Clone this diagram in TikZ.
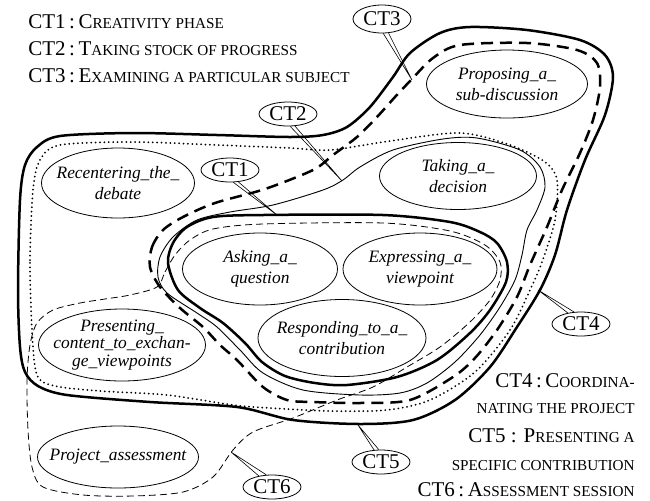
\documentclass[tikz,border=0pt]{standalone}
\usepackage{fontspec}
\setmainfont{Liberation Serif}
\usetikzlibrary{shapes.geometric}
\newcommand{\fsc}[1]{{\fontsize{7.6}{9}\selectfont\MakeUppercase{#1}}}

\begin{document}
\begin{tikzpicture}[
		x = .5pt, y = -.5pt,
		act/.style = {ellipse, draw, line width=.4pt, inner xsep=-14pt, inner ysep=-6pt, align=center, font=\fontsize{8.7}{10.5}\selectfont\itshape},
		ctlabel/.style = {ellipse, draw, line width=.4pt, inner sep=0pt, minimum width=29pt, minimum height=12pt, font=\fontsize{10.5}{12}\selectfont},
		tail/.style = {line width=.3pt},
		legend/.style = {inner sep=0pt, font=\fontsize{10.5}{12}\selectfont},
		boldline/.style = {line width=1.25pt},
		thinline/.style = {line width=.45pt},
		bolddash/.style = {line width=1.25pt, dash pattern=on 6pt off 3.5pt},
		thindash/.style = {line width=.4pt, dash pattern=on 3.5pt off 2pt},
		dotline/.style = {line width=1pt, dash pattern=on 0pt off 2.2pt, line cap=round}
	]

	\useasboundingbox (0,0) rectangle (650,500);

	% activities
	\node[act, minimum width=76.5pt, minimum height=35pt] (recenter) at (118,183) {Recentering\_the\_\\debate};
	\node[act, minimum width=78.5pt, minimum height=33.5pt] (decision) at (458,176) {Taking\_a\_\\decision};
	\node[act, minimum width=80.5pt, minimum height=34pt] (proposing) at (507,84) {Proposing\_a\_\\sub-discussion};
	\node[act, minimum width=77.5pt, minimum height=36pt] (asking) at (260,269) {Asking\_a\_\\question};
	\node[act, minimum width=77pt, minimum height=36pt] (expressing) at (420,269) {Expressing\_a\_\\viewpoint};
	\node[act, minimum width=84pt, minimum height=38.5pt] (responding) at (342,338) {Responding\_to\_a\_\\contribution};
	\node[act, minimum width=83.5pt, minimum height=36pt, font=\fontsize{8.7}{8.9}\selectfont\itshape] (presenting) at (122,345) {Presenting\_\\content\_to\_exchan-\\ge\_viewpoints};
	\node[act, minimum width=80.5pt, minimum height=31pt] (assessment) at (118,457) {Project\_assessment};

	% CT4
	\draw[boldline] plot[smooth cycle, tension=.5] coordinates {(20,347) (18,290) (20,200) (25,165) (37,147) (60,136) (133,133) (217,135) (290,137) (323,135) (347,127) (370,107) (393,77) (410,53) (440,33) (470,27) (527,30) (580,40) (605,55) (613,77) (605,115) (585,160) (567,210) (555,255) (540,290) (517,327) (490,367) (455,400) (413,420) (360,424) (293,420) (237,407) (150,402) (67,395) (38,386) (25,372)};
	% CT5
	\draw[dotline] plot[smooth cycle, tension=.5] coordinates {(32,330) (30,260) (33,190) (40,160) (60,145) (133,142) (217,145) (290,148) (330,150) (390,141) (460,133) (510,145) (545,162) (557,180) (555,220) (542,262) (530,290) (510,330) (475,372) (430,400) (387,410) (330,411) (270,408) (233,405) (167,395) (100,391) (55,386) (37,375)};
	% CT3
	\draw[bolddash] plot[smooth cycle, tension=.5] coordinates {(150,267) (152,247) (163,230) (183,217) (215,203) (265,189) (313,170) (333,155) (357,137) (377,117) (395,97) (412,79) (433,58) (460,45) (527,43) (577,50) (597,63) (600,87) (593,120) (580,153) (562,190) (547,227) (530,265) (517,297) (497,330) (475,358) (453,377) (410,400) (360,403) (313,402) (287,400) (263,387) (237,360) (220,345) (203,327) (180,308) (160,287)};
	% CT2
	\draw[thinline] plot[smooth cycle, tension=.5] coordinates {(158,277) (160,257) (173,237) (197,220) (230,212) (273,205) (323,190) (343,180) (360,167) (393,150) (443,139) (477,138) (520,150) (540,167) (545,187) (537,210) (527,230) (522,255) (515,280) (500,307) (480,335) (455,362) (427,383) (400,393) (360,395) (303,390) (263,373) (240,350) (217,327) (197,313) (167,293)};
	% CT1
	\draw[boldline] plot[smooth cycle, tension=.5] coordinates {(168,263) (173,243) (187,227) (213,217) (263,215) (383,215) (450,222) (480,232) (497,243) (507,262) (506,282) (490,310) (470,333) (437,360) (397,377) (347,385) (315,383) (285,376) (262,362) (245,343) (223,323) (200,308) (178,290)};
	% CT6
	\draw[thindash] plot[smooth cycle, tension=.5] coordinates {(157,287) (165,272) (175,255) (190,240) (213,229) (263,224) (383,223) (450,231) (485,245) (500,262) (500,280) (490,300) (470,322) (440,347) (407,367) (373,387) (337,400) (293,418) (253,432) (233,450) (213,477) (183,492) (133,496) (83,495) (43,487) (32,467) (28,430) (27,380) (30,345) (37,323) (53,310) (80,303) (105,299) (130,295)};

	% callouts
	\node[ctlabel, minimum height=14pt] (ct3) at (382,19) {CT3};
	\node[ctlabel] (ct2) at (288,114) {CT2};
	\node[ctlabel] (ct1) at (230,170) {CT1};
	\node[ctlabel] (ct4) at (581,324) {CT4};
	\node[ctlabel] (ct5) at (381,462) {CT5};
	\node[ctlabel] (ct6) at (272,487) {CT6};

	\coordinate (tip3) at (412,80);
	\coordinate (tip2) at (342,181);
	\coordinate (tip1) at (277,215);
	\coordinate (tip4) at (538,290);
	\coordinate (tip5) at (358,425);
	\coordinate (tip6) at (231,452);

	\draw[tail] (ct3.275) -- (tip3) -- (ct3.295);
	\draw[tail] (ct2.280) -- (tip2) -- (ct2.300);
	\draw[tail] (ct1.285) -- (tip1) -- (ct1.305);
	\draw[tail] (ct4.140) -- (tip4) -- (ct4.120);
	\draw[tail] (ct5.120) -- (tip5) -- (ct5.100);
	\draw[tail] (ct6.140) -- (tip6) -- (ct6.115);

	% legend
	\node[legend, anchor=base west] (leg1) at (28,28) {CT1\,:\,C\fsc{reativity phase}};
	\node[legend, anchor=base west] (leg2) at (28,55) {CT2\,:\,T\fsc{aking stock of progress}};
	\node[legend, anchor=base west] (leg3) at (28,82) {CT3\,:\,E\fsc{xamining a particular subject}};
	\node[legend, anchor=base east] (leg4a) at (635,387) {CT4\,:\,C\fsc{oordina-}};
	\node[legend, anchor=base east] (leg4b) at (635,413) {\fsc{nating the project}};
	\node[legend, anchor=base east] (leg5a) at (635,442) {CT5 : P\fsc{resenting a}};
	\node[legend, anchor=base east] (leg5b) at (635,470) {\fsc{specific contribution}};
	\node[legend, anchor=base east] (leg6) at (635,496) {CT6\,:\,A\fsc{ssessment session}};

\end{tikzpicture}
\end{document}
